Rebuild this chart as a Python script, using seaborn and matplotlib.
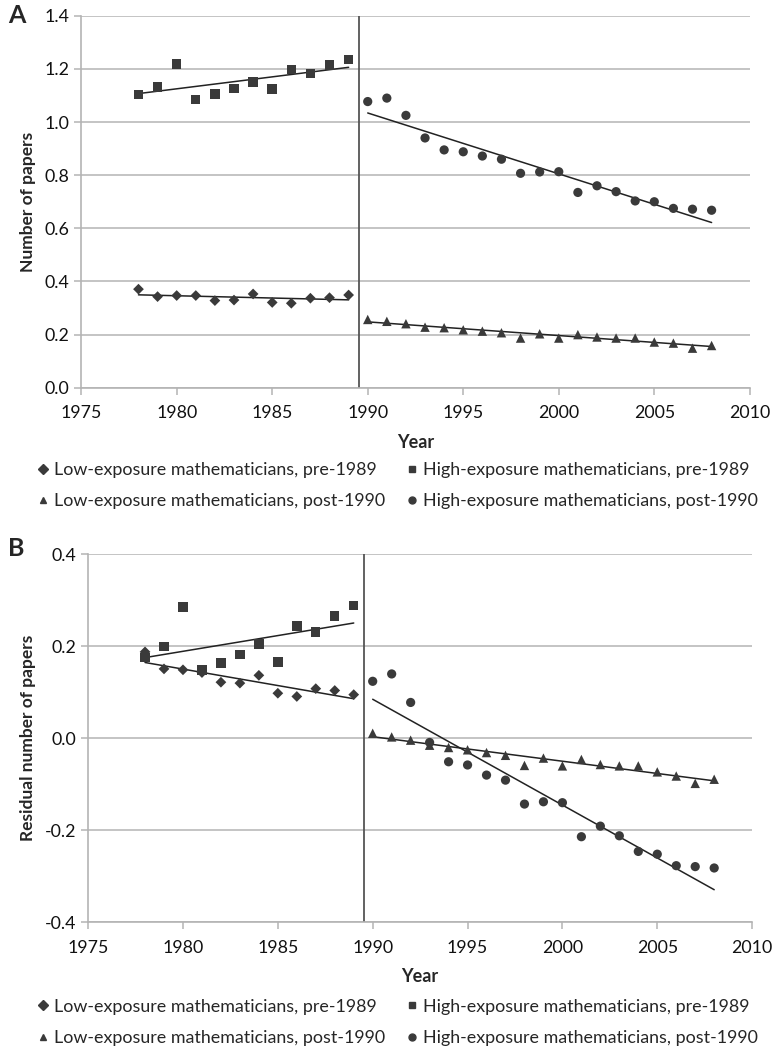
import numpy as np
import pandas as pd
import matplotlib
matplotlib.use("Agg")
import matplotlib.pyplot as plt
from matplotlib.lines import Line2D
import seaborn as sns

sns.set_theme(style="white")
plt.rcParams["font.family"] = ["Lato", "DejaVu Sans"]

# ── data ──
years_pre = [1978, 1979, 1980, 1981, 1982, 1983, 1984, 1985, 1986, 1987, 1988, 1989]
years_post = [1990, 1991, 1992, 1993, 1994, 1995, 1996, 1997, 1998, 1999,
              2000, 2001, 2002, 2003, 2004, 2005, 2006, 2007, 2008]

# panel A: raw number of papers
a_low_pre = [0.371, 0.343, 0.347, 0.347, 0.328, 0.330, 0.353, 0.321, 0.318, 0.337, 0.339, 0.349]
a_high_pre = [1.104, 1.132, 1.219, 1.085, 1.106, 1.126, 1.151, 1.125, 1.197, 1.182, 1.215, 1.235]
a_low_post = [0.257, 0.250, 0.241, 0.228, 0.226, 0.218, 0.213, 0.207, 0.187, 0.203,
              0.187, 0.200, 0.191, 0.187, 0.187, 0.172, 0.168, 0.149, 0.159]
a_high_post = [1.077, 1.090, 1.025, 0.940, 0.895, 0.888, 0.872, 0.860, 0.807, 0.812,
               0.813, 0.735, 0.760, 0.738, 0.703, 0.700, 0.675, 0.672, 0.668]

# panel B: residual number of papers
b_low_pre = [0.188, 0.151, 0.149, 0.143, 0.122, 0.120, 0.137, 0.098, 0.091, 0.108, 0.104, 0.095]
b_high_pre = [0.176, 0.200, 0.286, 0.149, 0.164, 0.182, 0.205, 0.166, 0.244, 0.231, 0.266, 0.289]
b_low_post = [0.011, 0.003, -0.004, -0.015, -0.020, -0.025, -0.031, -0.037, -0.059, -0.043,
              -0.060, -0.046, -0.057, -0.060, -0.060, -0.073, -0.082, -0.098, -0.089]
b_high_post = [0.124, 0.140, 0.078, -0.009, -0.051, -0.058, -0.080, -0.091, -0.143, -0.138,
               -0.140, -0.214, -0.191, -0.212, -0.246, -0.252, -0.277, -0.279, -0.282]

labels = ["Low-exposure mathematicians, pre-1989",
          "High-exposure mathematicians, pre-1989",
          "Low-exposure mathematicians, post-1990",
          "High-exposure mathematicians, post-1990"]
markers = ["D", "s", "^", "o"]
sizes = [30, 46, 46, 44]
MC = "#3a3a3a"
GRID = "#b4b4b4"


def long_df(low_pre, high_pre, low_post, high_post):
    rows = []
    for lbl, yrs, vals in zip(labels, [years_pre, years_pre, years_post, years_post],
                              [low_pre, high_pre, low_post, high_post]):
        for y, v in zip(yrs, vals):
            rows.append({"Year": y, "value": v, "group": lbl})
    return pd.DataFrame(rows)


def draw_panel(ax, df, ylim, yticks, ylabel):
    for lbl, mk, sz in zip(labels, markers, sizes):
        sub = df[df["group"] == lbl]
        sns.scatterplot(data=sub, x="Year", y="value", marker=mk, s=sz, color=MC,
                        edgecolor="none", ax=ax, zorder=4)
        sns.regplot(data=sub, x="Year", y="value", scatter=False, ci=None, ax=ax,
                    line_kws={"color": "#222222", "lw": 1.1, "zorder": 3})
    ax.axvline(1989.55, color="#555555", lw=1.3, zorder=2)
    ax.set_xlim(1975, 2010)
    ax.set_xticks(range(1975, 2011, 5))
    ax.set_ylim(*ylim)
    ax.set_yticks(yticks)
    ax.set_yticklabels([f"{t:.1f}" for t in yticks])
    ax.yaxis.grid(True, color=GRID, lw=1.1)
    ax.xaxis.grid(False)
    for s in ["top", "right"]:
        ax.spines[s].set_visible(False)
    for s in ["left", "bottom"]:
        ax.spines[s].set_color(GRID)
        ax.spines[s].set_linewidth(1.2)
    ax.tick_params(axis="both", direction="out", length=5, width=1.1, color=GRID,
                   labelsize=12.8, labelcolor="#111111", bottom=True, left=True)
    ax.tick_params(axis="x", pad=7.5)
    ax.set_xlabel("Year", fontsize=13, fontweight="bold", labelpad=9)
    ax.set_ylabel(ylabel, fontsize=12.5, fontweight="bold", labelpad=6)


fig = plt.figure(figsize=(7.73, 10.48), dpi=100)
axA = fig.add_axes([0.105, 0.630, 0.865, 0.355])
axB = fig.add_axes([0.114, 0.120, 0.859, 0.351])

draw_panel(axA, long_df(a_low_pre, a_high_pre, a_low_post, a_high_post),
           (0, 1.4), [0.0, 0.2, 0.4, 0.6, 0.8, 1.0, 1.2, 1.4], "Number of papers")
draw_panel(axB, long_df(b_low_pre, b_high_pre, b_low_post, b_high_post),
           (-0.4, 0.4), [-0.4, -0.2, 0.0, 0.2, 0.4], "Residual number of papers")

fig.text(0.010, 0.985, "A", fontsize=18, fontweight="bold", va="center")
fig.text(0.010, 0.477, "B", fontsize=18, fontweight="bold", va="center")

# legend: row-major order in a 2-column legend
handles = [Line2D([], [], ls="none", marker=m, color=MC, markersize=5) for m in markers]
order = [0, 2, 1, 3]
for ax, y in [(axA, 0.566), (axB, 0.054)]:
    fig.legend([handles[i] for i in order], [labels[i] for i in order], ncol=2,
               loc="upper left", bbox_to_anchor=(0.040, y), frameon=False,
               fontsize=12.9, handlelength=0.6, handletextpad=0.3, columnspacing=1.2,
               labelspacing=0.85, borderaxespad=0)

fig.savefig("out.png", dpi=100)
